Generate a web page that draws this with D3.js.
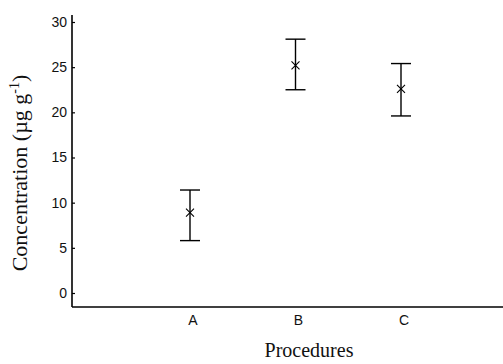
<!DOCTYPE html>
<html>
<head>
<meta charset="utf-8">
<script src="https://cdn.jsdelivr.net/npm/d3@7"></script>
<style>
body { margin: 0; background: #fff; }
</style>
</head>
<body>
<div id="chart"></div>
<script>
// Data
var procedures = ["A", "B", "C"];
var means = [8.9, 25.2, 22.6];
var lows = [5.8, 22.5, 19.6];
var highs = [11.4, 28.1, 25.4];
var yTicks = [0, 5, 10, 15, 20, 25, 30];

var W = 503, H = 364;
var margin = {left: 72, top: 15, right: 0, bottom: 57};

var svg = d3.select("#chart").append("svg")
    .attr("width", W)
    .attr("height", H);

var x = d3.scalePoint()
    .domain(procedures)
    .range([193, 404]);

var y = d3.scaleLinear()
    .domain([0, 30])
    .range([293, 22]);

var axisBottomY = 307;

// y axis
var yAxis = d3.axisRight(y).tickValues(yTicks).tickSize(3).tickFormat(d3.format("d"));
var gy = svg.append("g")
    .attr("transform", "translate(" + margin.left + ",0)")
    .call(yAxis);
gy.select(".domain").remove();
gy.selectAll(".tick line").attr("stroke", "#000").attr("stroke-width", 1.2);
gy.selectAll(".tick text")
    .attr("x", -5)
    .attr("text-anchor", "end")
    .style("font-family", "Liberation Sans, Arial, sans-serif")
    .style("font-size", "14px")
    .attr("fill", "#111");

svg.append("line")
    .attr("x1", margin.left).attr("x2", margin.left)
    .attr("y1", margin.top).attr("y2", axisBottomY)
    .attr("stroke", "#000").attr("stroke-width", 1.6);

// x axis
svg.append("line")
    .attr("x1", margin.left).attr("x2", W)
    .attr("y1", axisBottomY).attr("y2", axisBottomY)
    .attr("stroke", "#000").attr("stroke-width", 1.4);

svg.append("g").selectAll(".xlab")
    .data(procedures)
    .enter().append("text")
    .attr("class", "xlab")
    .attr("x", function(d) { return x(d); })
    .attr("y", 325)
    .attr("text-anchor", "middle")
    .style("font-family", "Liberation Sans, Arial, sans-serif")
    .style("font-size", "14px")
    .attr("fill", "#111")
    .text(function(d) { return d; });

// error bars
var bars = svg.append("g").selectAll(".bar")
    .data(procedures)
    .enter().append("g")
    .attr("class", "bar")
    .attr("transform", function(d) { return "translate(" + (x(d) - 3) + ",0)"; });

var capW = 10;
bars.append("line")
    .attr("y1", function(d, i) { return y(highs[i]); })
    .attr("y2", function(d, i) { return y(lows[i]); })
    .attr("stroke", "#000").attr("stroke-width", 1.4);
bars.append("line")
    .attr("x1", -capW).attr("x2", capW)
    .attr("y1", function(d, i) { return y(highs[i]); })
    .attr("y2", function(d, i) { return y(highs[i]); })
    .attr("stroke", "#000").attr("stroke-width", 1.4);
bars.append("line")
    .attr("x1", -capW).attr("x2", capW)
    .attr("y1", function(d, i) { return y(lows[i]); })
    .attr("y2", function(d, i) { return y(lows[i]); })
    .attr("stroke", "#000").attr("stroke-width", 1.4);
bars.append("path")
    .attr("d", function(d, i) {
        var c = y(means[i]), s = 4;
        return "M" + (-s) + "," + (c - s) + "L" + s + "," + (c + s) +
               "M" + s + "," + (c - s) + "L" + (-s) + "," + (c + s);
    })
    .attr("stroke", "#000").attr("stroke-width", 1.1).attr("fill", "none");

// axis titles
svg.append("text")
    .attr("x", 309)
    .attr("y", 357)
    .attr("text-anchor", "middle")
    .style("font-family", "Liberation Serif, Times New Roman, serif")
    .style("font-size", "20px")
    .attr("fill", "#111")
    .text("Procedures");

var yt = svg.append("text")
    .attr("transform", "translate(27,173) rotate(-90)")
    .attr("text-anchor", "middle")
    .style("font-family", "Liberation Serif, Times New Roman, serif")
    .style("font-size", "22px")
    .attr("fill", "#111");
yt.append("tspan").text("Concentration (\u00b5g g");
yt.append("tspan").attr("dy", -8).style("font-size", "14px").text("-1");
yt.append("tspan").attr("dy", 8).text(")");
</script>
</body>
</html>
